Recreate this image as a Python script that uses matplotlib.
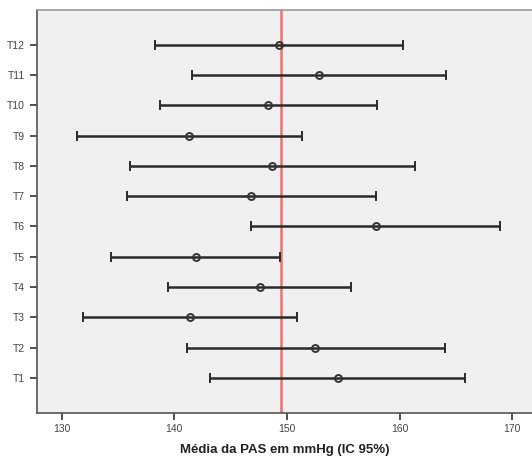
import matplotlib
matplotlib.use("Agg")
from matplotlib import pyplot as plt

plt.rcParams['font.family'] = ['Liberation Sans', 'DejaVu Sans']

labels = ["T1", "T2", "T3", "T4", "T5", "T6", "T7", "T8", "T9", "T10", "T11", "T12"]
means = [154.5, 152.5, 141.4, 147.6, 141.9, 157.9, 146.8, 148.7, 141.3, 148.3, 152.8, 149.3]
lower = [143.2, 141.1, 131.9, 139.4, 134.4, 146.8, 135.8, 136.1, 131.4, 138.7, 141.6, 138.3]
upper = [165.8, 164.0, 150.9, 155.7, 149.4, 168.9, 157.9, 161.4, 151.3, 158.0, 164.1, 160.3]
ref_line = 149.5

ypos = list(range(1, len(labels) + 1))
err_lo = [m - l for m, l in zip(means, lower)]
err_hi = [u - m for m, u in zip(means, upper)]

fig = plt.figure(figsize=(5.32, 4.57), dpi=100)
ax = fig.add_axes([0.069, 0.097, 0.931, 0.881])
ax.set_facecolor('#f0f0f0')

ax.errorbar(means, ypos, xerr=[err_lo, err_hi], fmt='o', color='#2a2a2a',
            ecolor='#2a2a2a', elinewidth=1.8, capsize=3.5, capthick=1.6,
            markersize=5, markerfacecolor='none', markeredgecolor='#333333',
            markeredgewidth=1.4, zorder=3)
ax.axvline(ref_line, color='#f07070', linewidth=1.8, zorder=2)

ax.set_xlim(127.78, 171.75)
ax.set_ylim(-0.15, 13.15)
ax.set_xticks([130, 140, 150, 160, 170])
ax.set_yticks(ypos)
ax.set_yticklabels(labels)
ax.tick_params(axis='both', direction='out', length=5, width=1.2,
               labelsize=7.5, colors='#333333', labelcolor='#444444')

ax.spines['right'].set_visible(False)
ax.spines['top'].set_color('#9a9a9a')
ax.spines['top'].set_linewidth(1.2)
ax.spines['left'].set_color('#555555')
ax.spines['bottom'].set_color('#555555')
ax.spines['left'].set_linewidth(1.2)
ax.spines['bottom'].set_linewidth(1.2)

ax.set_xlabel("Média da PAS em mmHg (IC 95%)", fontsize=9.5, fontweight='bold',
              color='#222222', labelpad=7)

plt.savefig("out.png", dpi=100)
